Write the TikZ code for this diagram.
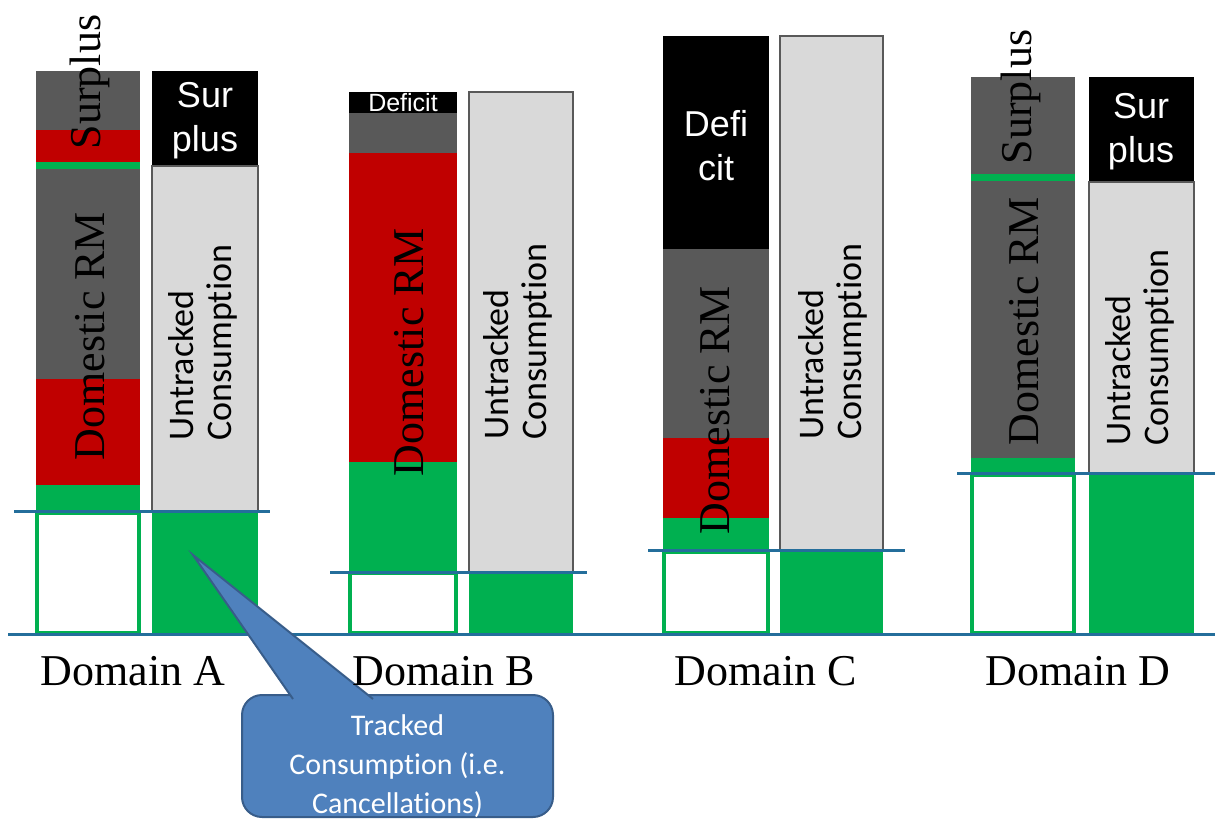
\documentclass[tikz,border=0pt]{standalone}
\usepackage{fontspec}
\setmainfont{Liberation Serif}
\newfontfamily\arialfont{Liberation Sans}
\newfontfamily\calibrifont[Ligatures=NoCommon]{Carlito}
\usetikzlibrary{positioning, calc}

\definecolor{rmgray}{RGB}{89, 89, 89}
\definecolor{rmred}{RGB}{192, 0, 0}
\definecolor{rmgreen}{RGB}{0, 176, 80}
\definecolor{untrgray}{RGB}{217, 217, 217}
\definecolor{levelblue}{RGB}{36, 110, 155}
\definecolor{callblue}{RGB}{79, 129, 189}
\definecolor{calledge}{RGB}{56, 93, 138}

\tikzset{
  vlabel/.style={rotate=90, inner sep=0pt, font=\fontsize{22}{24}\selectfont},
  untr/.style={rotate=90, anchor=west, align=left, inner sep=0pt,
    font=\calibrifont\fontsize{18}{19}\selectfont},
  boxlabel/.style={text=white, align=center, inner sep=0pt,
    font=\arialfont\fontsize{18}{22}\selectfont},
  domlabel/.style={anchor=base, inner sep=0pt, font=\fontsize{22}{24}\selectfont},
  untrbar/.style={fill=untrgray, draw=rmgray, line width=0.8pt},
  trackbox/.style={draw=rmgreen, line width=1.75pt, fill=white},
  level/.style={levelblue, line width=1.5pt},
  callbox/.style={fill=callblue, draw=calledge, line width=1pt, rounded corners=10pt},
  calltext/.style={text=white, align=center, inner sep=0pt,
    font=\calibrifont\fontsize{15}{19.5}\selectfont}
}

\begin{document}
\begin{tikzpicture}[x=0.5pt, y=-0.5pt]
  \useasboundingbox (0,0) rectangle (1215,819);

  % Domain A
  \fill[rmgray] (36,71) rectangle (140,130);
  \fill[rmred] (36,130) rectangle (140,162);
  \fill[rmgreen] (36,162) rectangle (140,169);
  \fill[rmgray] (36,169) rectangle (140,379);
  \fill[rmred] (36,379) rectangle (140,485);
  \fill[rmgreen] (36,485) rectangle (140,512);
  \draw[trackbox] (37,513) rectangle (139,633);
  \fill[black] (152,71) rectangle (258,166);
  \draw[untrbar] (152,166) rectangle (258,511);
  \fill[rmgreen] (152,511) rectangle (258,634);

  % Domain B
  \fill[black] (349,92) rectangle (457,113);
  \fill[rmgray] (349,113) rectangle (457,153);
  \fill[rmred] (349,153) rectangle (457,462);
  \fill[rmgreen] (349,462) rectangle (457,572);
  \draw[trackbox] (350,573) rectangle (456,633);
  \draw[untrbar] (469,92) rectangle (573,572);
  \fill[rmgreen] (469,572) rectangle (573,634);

  % Domain C
  \fill[black] (663,36) rectangle (769,249);
  \fill[rmgray] (663,249) rectangle (769,438);
  \fill[rmred] (663,438) rectangle (769,518);
  \fill[rmgreen] (663,518) rectangle (769,551);
  \draw[trackbox] (664,552) rectangle (768,633);
  \draw[untrbar] (780,36) rectangle (883,550);
  \fill[rmgreen] (780,550) rectangle (883,634);

  % Domain D
  \fill[rmgray] (971,77) rectangle (1075,174);
  \fill[rmgreen] (971,174) rectangle (1075,181);
  \fill[rmgray] (971,181) rectangle (1075,458);
  \fill[rmgreen] (971,458) rectangle (1075,474);
  \draw[trackbox] (972,475) rectangle (1074,633);
  \fill[black] (1089,77) rectangle (1194,182);
  \draw[untrbar] (1089,182) rectangle (1194,473);
  \fill[rmgreen] (1089,473) rectangle (1194,634);

  % labels inside the bars
  \node[vlabel] (surA) at (90,82) {Surplus};
  \node[vlabel] (surD) at (1021,97) {Surplus};
  \node[vlabel] (rmA) at (90,336) {Domestic RM};
  \node[vlabel] (rmB) at (409,352) {Domestic RM};
  \node[vlabel] (rmC) at (715,410) {Domestic RM};
  \node[vlabel] (rmD) at (1024,321) {Domestic RM};
  \node[boxlabel] (spA) at (205,121) {Sur\\plus};
  \node[boxlabel] (spD) at (1141,132) {Sur\\plus};
  \node[boxlabel] (dfC) at (716,146) {Defi\\cit};
  \node[boxlabel, font=\arialfont\fontsize{12.5}{14}\selectfont] (dfB) at (403,103) {Deficit};
  \node[untr] (untrA) at (203,441) {Untracked\\Consumption};
  \node[untr] (untrB) at (518,440) {Untracked\\Consumption};
  \node[untr] (untrC) at (833,440) {Untracked\\Consumption};
  \node[untr] (untrD) at (1140,446) {Untracked\\Consumption};

  % levels of tracked consumption and the axis
  \draw[level] (14,511) -- (270,511);
  \draw[level] (330,572) -- (587,572);
  \draw[level] (648,550) -- (905,550);
  \draw[level] (957,473) -- (1215,473);
  \draw[level] (8,634) -- (1215,634);

  % callout
  \node[callbox, minimum width=155.5pt, minimum height=61pt] (callout) at (397.5,756) {};
  \node[calltext] (calltxt) at ([yshift=-5pt]callout.center)
    {Tracked\\Consumption (i.e.\\Cancellations)};
  \coordinate (tip) at (193,555);
  \coordinate (pl) at (293,699);
  \coordinate (pr) at (373,699);
  \fill[callblue] (pl) -- (tip) -- (pr) -- cycle;
  \draw[calledge, line width=1pt] (pl) -- (tip) -- (pr);

  \foreach \name/\x in {A/133, B/444, C/766, D/1078}
    \node[domlabel] (dom\name) at (\x,685) {Domain \name};
\end{tikzpicture}
\end{document}
